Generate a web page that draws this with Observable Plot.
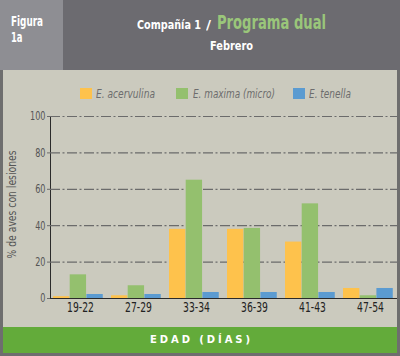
<!DOCTYPE html>
<html><head><meta charset="utf-8">
<script src="https://cdn.jsdelivr.net/npm/d3@7"></script>
<script src="https://cdn.jsdelivr.net/npm/@observablehq/plot@0.6"></script>
<style>
html,body{margin:0;padding:0;background:#fff;}
#wrap{position:relative;width:400px;height:356px;overflow:hidden;background:#cbcabe;font-family:"DejaVu Sans Condensed","DejaVu Sans",sans-serif;}
.abs{position:absolute;}
.t{position:absolute;white-space:nowrap;transform-origin:left top;}
#hdrL{left:0;top:0;width:63px;height:70px;background:#8e8e93;}
#hdrR{left:63px;top:0;width:337px;height:70px;background:#6c6b70;}
.w{color:#fff;font-weight:bold;}
#bL{left:0;top:70px;width:3px;height:286px;background:#6e6e6e;}
#bR{left:397px;top:70px;width:3px;height:286px;background:#6e6e6e;}
#bB{left:0;top:353px;width:400px;height:3px;background:#6e6e6e;}
#green{left:3px;top:327px;width:394px;height:26px;background:#63ab3a;}
#edad{color:#fff;font-weight:bold;font-size:10px;line-height:10px;font-family:"DejaVu Sans",sans-serif;top:335px;}
.li{font-style:italic;font-size:11.5px;line-height:11.5px;color:#6d6d6d;top:88.5px;}
.sw{position:absolute;width:12px;height:11px;top:88px;}
#plot{left:0;top:70px;}
</style></head>
<body>
<div id="wrap">
  <div class="abs" id="hdrL"></div>
  <div class="abs" id="hdrR"></div>
  <div class="abs" id="plot"></div>
  <div class="abs" id="green"></div>
  <div class="abs" id="bL"></div>
  <div class="abs" id="bR"></div>
  <div class="abs" id="bB"></div>
</div>
<script>
const categories = ["19-22","27-29","33-34","36-39","41-43","47-54"];
const seriesNames = ["E. acervulina","E. maxima (micro)","E. tenella"];
const acervulina = [1, 1.5, 38, 38, 31, 5.5];
const maxima = [13, 7, 65, 38.5, 52, 1.5];
const tenella = [2.2, 2.2, 3.3, 3.3, 3.3, 5.5];
const yTicks = [0, 20, 40, 60, 80, 100];
const colors = ["#fec24c", "#94c06e", "#5b9bd1"];
const figureLabel = ["Figura", "1a"];
const titleLeft = "Compañía 1";
const titleSep = "/";
const titleRight = "Programa dual";
const subtitle = "Febrero";
const yLabel = "% de aves con lesiones";
const xLabel = "EDAD (DÍAS)";

const wrap = document.getElementById("wrap");
function addText(txt, cls, left, top, fs, width, extraStyle) {
  const d = document.createElement("div");
  d.className = "t " + cls;
  d.textContent = txt;
  d.style.left = left + "px";
  d.style.top = top + "px";
  if (fs) { d.style.fontSize = fs + "px"; d.style.lineHeight = fs + "px"; }
  if (extraStyle) Object.assign(d.style, extraStyle);
  wrap.appendChild(d);
  if (width) {
    const nw = d.getBoundingClientRect().width;
    d.style.transform = `scaleX(${width / nw})`;
  }
  return d;
}

// header
addText(figureLabel[0], "w", 11, 15.3, 13.5, 32);
addText(figureLabel[1], "w", 11, 31.3, 13.5, 11.5);
addText(titleLeft, "w", 137, 18.3, 13, 64);
addText(titleSep, "w", 206, 18.3, 13, 5);
addText(titleRight, "w", 217, 13.2, 19, 109, {color: "#9ac67a"});
addText(subtitle, "w", 210, 40.1, 12.5, 43);

// legend
const legendSw = [80, 176, 293];
const legendTx = [96, 193, 309];
const legendW = [59, 82, 42];
seriesNames.forEach((s, i) => {
  const sw = document.createElement("div");
  sw.className = "sw";
  sw.style.left = legendSw[i] + "px";
  sw.style.background = colors[i];
  wrap.appendChild(sw);
  addText(s, "li", legendTx[i], 88.5, null, legendW[i]);
});

const seriesValues = [acervulina, maxima, tenella];
const rows = [];
seriesNames.forEach((s, si) => categories.forEach((c, ci) => rows.push({cat: c, series: s, value: seriesValues[si][ci]})));

const step = 350 / categories.length;
const bw = 16.7;
const offs = [2, 2 + bw, 2 + 2 * bw];
const font = '"DejaVu Sans Condensed","DejaVu Sans",sans-serif';

const chart = Plot.plot({
  width: 400,
  height: 255,
  marginLeft: 50,
  marginRight: 0,
  marginTop: 46,
  marginBottom: 27,
  style: {background: "transparent", fontFamily: font, fontSize: "12px", color: "#2a2a2a", overflow: "visible"},
  x: {type: "band", domain: categories, padding: 0, label: null, tickSize: 0, tickPadding: 4, line: true},
  y: {domain: [0, 100], ticks: yTicks, label: null, tickSize: 3, tickPadding: 2, line: true},
  marks: [
    Plot.ruleY(yTicks.filter(d => d > 0), {stroke: "#6b6b6b", strokeWidth: 1.2, strokeDasharray: "10,2.5,2,2.5"}),
    ...seriesNames.map((s, i) => Plot.barY(rows.filter(r => r.series === s), {
      x: "cat", y: "value", fill: colors[i],
      insetLeft: offs[i], insetRight: step - offs[i] - bw
    })),
    Plot.text([yLabel], {frameAnchor: "left", textAnchor: "middle", rotate: -90, dx: -38, dy: -3, fontSize: 11.5, fill: "#555"})
  ]
});
document.getElementById("plot").appendChild(chart);

// condense svg texts
chart.querySelectorAll('[aria-label="x-axis"] text, [aria-label="x-axis tick label"] text').forEach(t => {
  t.setAttribute("font-size", "13.5"); t.setAttribute("fill", "#222");
  const n = t.getComputedTextLength();
  t.setAttribute("textLength", n * 0.76); t.setAttribute("lengthAdjust", "spacingAndGlyphs");
});
chart.querySelectorAll('[aria-label="y-axis"] text, [aria-label="y-axis tick label"] text').forEach(t => {
  t.setAttribute("fill", "#555");
  const n = t.getComputedTextLength();
  t.setAttribute("textLength", n * 0.75); t.setAttribute("lengthAdjust", "spacingAndGlyphs");
});
chart.querySelectorAll('[aria-label="text"] text').forEach(t => {
  t.setAttribute("textLength", 108); t.setAttribute("lengthAdjust", "spacingAndGlyphs");
});
chart.querySelectorAll('[aria-label="y-axis"], [aria-label="y-axis tick"], [aria-label="x-axis"], [aria-label="y-axis line"], [aria-label="x-axis line"]').forEach(g => g.setAttribute("stroke", "#6b6b6b"));

// bottom label with letter spacing fitted to ~100px centered at 200
const ed = addText(xLabel, "", 0, 335, null, null);
ed.id = "edad";
const nw = ed.getBoundingClientRect().width;
const ls = (100 - nw) / (xLabel.length - 1);
ed.style.letterSpacing = ls + "px";
const w2 = ed.getBoundingClientRect().width - ls;
ed.style.left = (200 - w2 / 2) + "px";
</script>
</body></html>
